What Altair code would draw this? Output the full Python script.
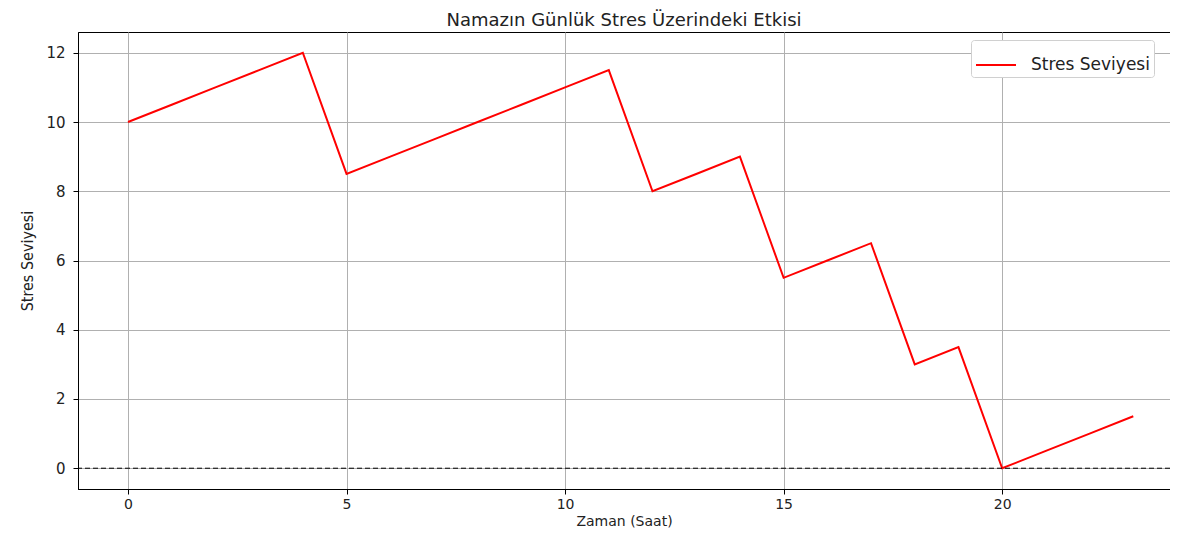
import altair as alt
import pandas as pd

hours = list(range(24))
stress = [10, 10.5, 11, 11.5, 12, 8.5, 9, 9.5, 10, 10.5, 11, 11.5,
          8, 8.5, 9, 5.5, 6, 6.5, 3, 3.5, 0, 0.5, 1, 1.5]
series_name = "Stres Seviyesi"
title_text = "Namazın Günlük Stres Üzerindeki Etkisi"
x_ticks = [0, 5, 10, 15, 20]
y_ticks = [0, 2, 4, 6, 8, 10, 12]

df = pd.DataFrame({"Saat": hours, "Stres": stress, "Seri": [series_name] * len(hours)})

x_scale = alt.Scale(domain=[-1.144, 23.84], nice=False, zero=False)
y_scale = alt.Scale(domain=[-0.6, 12.6], nice=False, zero=False)

line = alt.Chart(df).mark_line(strokeWidth=2, clip=True).encode(
    x=alt.X("Saat:Q", scale=x_scale,
            axis=alt.Axis(title="Zaman (Saat)", values=x_ticks, format="d",
                          grid=True, gridColor="#b0b0b0", gridWidth=1,
                          domainColor="black", tickColor="black", tickSize=5,
                          labelFont="DejaVu Sans", labelFontSize=14, labelColor="#222",
                          labelPadding=3,
                          titleFont="DejaVu Sans", titleFontSize=14, titleFontWeight="normal",
                          titleColor="#222", titlePadding=3)),
    y=alt.Y("Stres:Q", scale=y_scale,
            axis=alt.Axis(title="Stres Seviyesi", values=y_ticks, format="d",
                          grid=True, gridColor="#b0b0b0", gridWidth=1,
                          domainColor="black", tickColor="black", tickSize=5,
                          labelFont="DejaVu Sans", labelFontSize=15, labelColor="#222",
                          labelPadding=8,
                          titleFont="DejaVu Sans Condensed, DejaVu Sans", titleFontSize=16,
                          titleFontWeight="normal", titleColor="#222", titlePadding=10)),
    color=alt.Color("Seri:N", scale=alt.Scale(domain=[series_name], range=["#ff0000"]),
                    legend=alt.Legend(title=None, orient="none", legendX=893, legendY=8,
                                      symbolType="stroke", symbolSize=1600, symbolStrokeWidth=2,
                                      labelFont="DejaVu Sans", labelFontSize=17, labelColor="#222",
                                      fillColor="white", strokeColor="#d0d0d0",
                                      padding=4, cornerRadius=3, labelOffset=14)),
)

zero_rule = alt.Chart(pd.DataFrame({"y0": [0]})).mark_rule(
    color="black", strokeWidth=1, strokeDash=[5, 3]
).encode(y=alt.Y("y0:Q", scale=y_scale))

chart = alt.layer(line, zero_rule).properties(
    width=1092, height=457,
    title=alt.TitleParams(title_text, font="DejaVu Sans", fontSize=18,
                          fontWeight="normal", color="#222", offset=2, anchor="middle"),
    autosize=alt.AutoSizeParams(type="none"),
    padding={"left": 70, "top": 24, "right": 0, "bottom": 41},
).configure_view(stroke="black", strokeWidth=1)

chart.save("out.html", embed_options={"renderer": "svg", "actions": False})
